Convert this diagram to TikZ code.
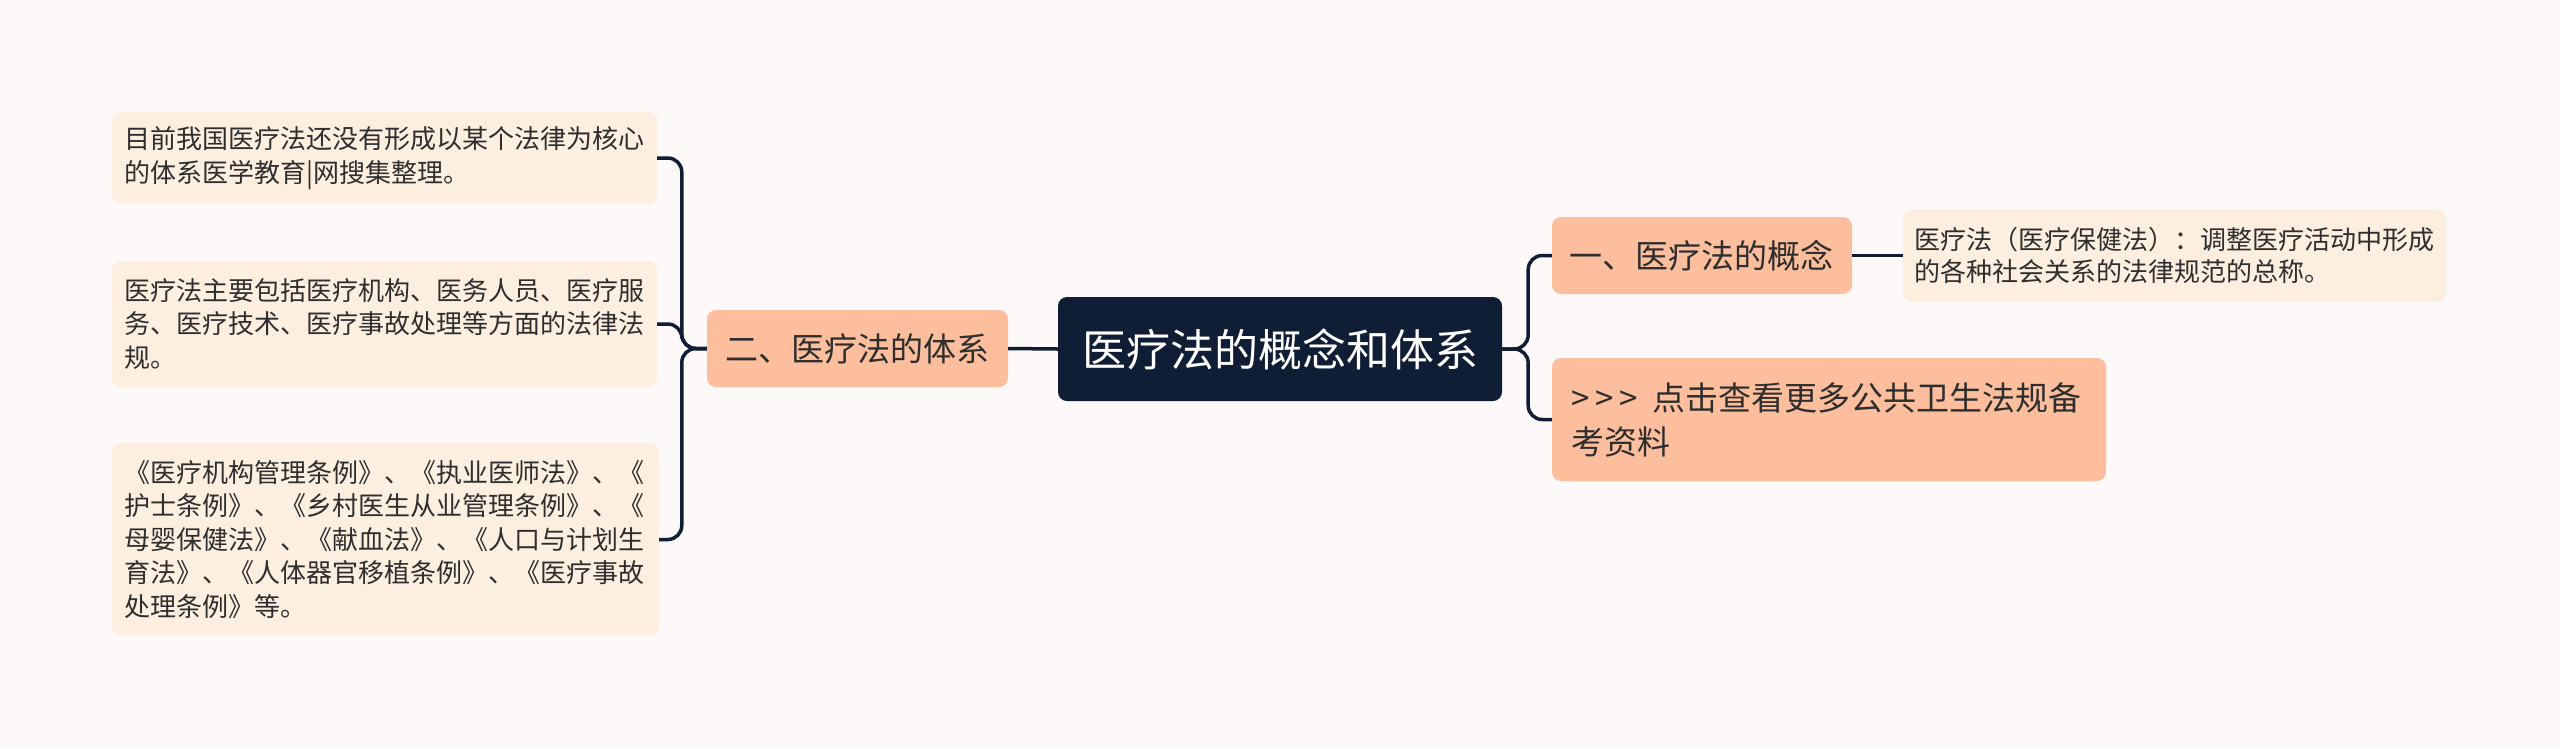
\documentclass[tikz,border=0pt]{standalone}
\usepackage{fontspec}
\setmainfont{Noto Sans CJK SC}
\definecolor{bg}{HTML}{FDF9F8}
\definecolor{navy}{HTML}{0F1D35}
\definecolor{peach}{HTML}{FCBE9C}
\definecolor{cream}{HTML}{FDEFDF}
\definecolor{ink}{HTML}{2E2E2E}
\tikzset{
  rootbox/.style={fill=navy, text=white, rounded corners=9pt, inner sep=0pt,
    minimum width=444pt, minimum height=104pt, font=\fontsize{44}{52}\selectfont},
  mainbox/.style={fill=peach, text=ink, rounded corners=9pt, inner sep=0pt,
    align=left, font=\fontsize{33}{44}\selectfont},
  leafbox/.style={fill=cream, text=ink, rounded corners=9pt, inner sep=0pt,
    align=left, font=\fontsize{26}{33.5}\selectfont},
  link/.style={draw=navy, line width=3.5pt, rounded corners=14pt},
}
\begin{document}
\begin{tikzpicture}[x=1pt,y=-1pt]
\fill[bg] (0,0) rectangle (2560,748);
\useasboundingbox (0,0) rectangle (2560,748);

\node[rootbox] (root) at (1280,349) {医疗法的概念和体系};

\node[mainbox, minimum width=301pt, minimum height=77pt, text width=265pt] (b2) at (857.5,348.5) {二、医疗法的体系};
\node[mainbox, minimum width=300pt, minimum height=77pt, text width=265pt] (b1) at (1702,255.5) {一、医疗法的概念};
\node[mainbox, minimum width=554pt, minimum height=123pt, text width=516pt] (more) at (1829,419.5) {>\kern6pt>\kern6pt>\kern4pt{} 点击查看更多公共卫生法规备\\考资料};

\node[leafbox, minimum width=543pt, minimum height=93pt, text width=521pt, font=\fontsize{26}{32}\selectfont] (lr) at (2174.5,255.5) {医疗法（医疗保健法）：调整医疗活动中形成\\的各种社会关系的法律规范的总称。};

\node[leafbox, minimum width=545pt, minimum height=92pt, text width=521pt] (l1) at (384.5,158) {目前我国医疗法还没有形成以某个法律为核心\\的体系医学教育|网搜集整理。};
\node[leafbox, minimum width=545pt, minimum height=126pt, text width=521pt] (l2) at (384.5,324) {医疗法主要包括医疗机构、医务人员、医疗服\\务、医疗技术、医疗事故处理等方面的法律法\\规。};
\node[leafbox, minimum width=547pt, minimum height=193pt, text width=523pt] (l3) at (385.5,539.5) {《医疗机构管理条例》、《执业医师法》、《\\护士条例》、《乡村医生从业管理条例》、《\\母婴保健法》、《献血法》、《人口与计划生\\育法》、《人体器官移植条例》、《医疗事故\\处理条例》等。};

\draw[link] (root.west) -- (b2.east);
\draw[link] (b2.west) -- ++(-25,0) |- (l1.east);
\draw[link] (b2.west) -- ++(-25,0) |- (l2.east);
\draw[link] (b2.west) -- ++(-25,0) |- (l3.east);
\draw[link] (root.east) -- ++(26,0) |- (b1.west);
\draw[link] (root.east) -- ++(26,0) |- (more.west);
\draw[link] (b1.east) -- (lr.west);
\end{tikzpicture}
\end{document}
